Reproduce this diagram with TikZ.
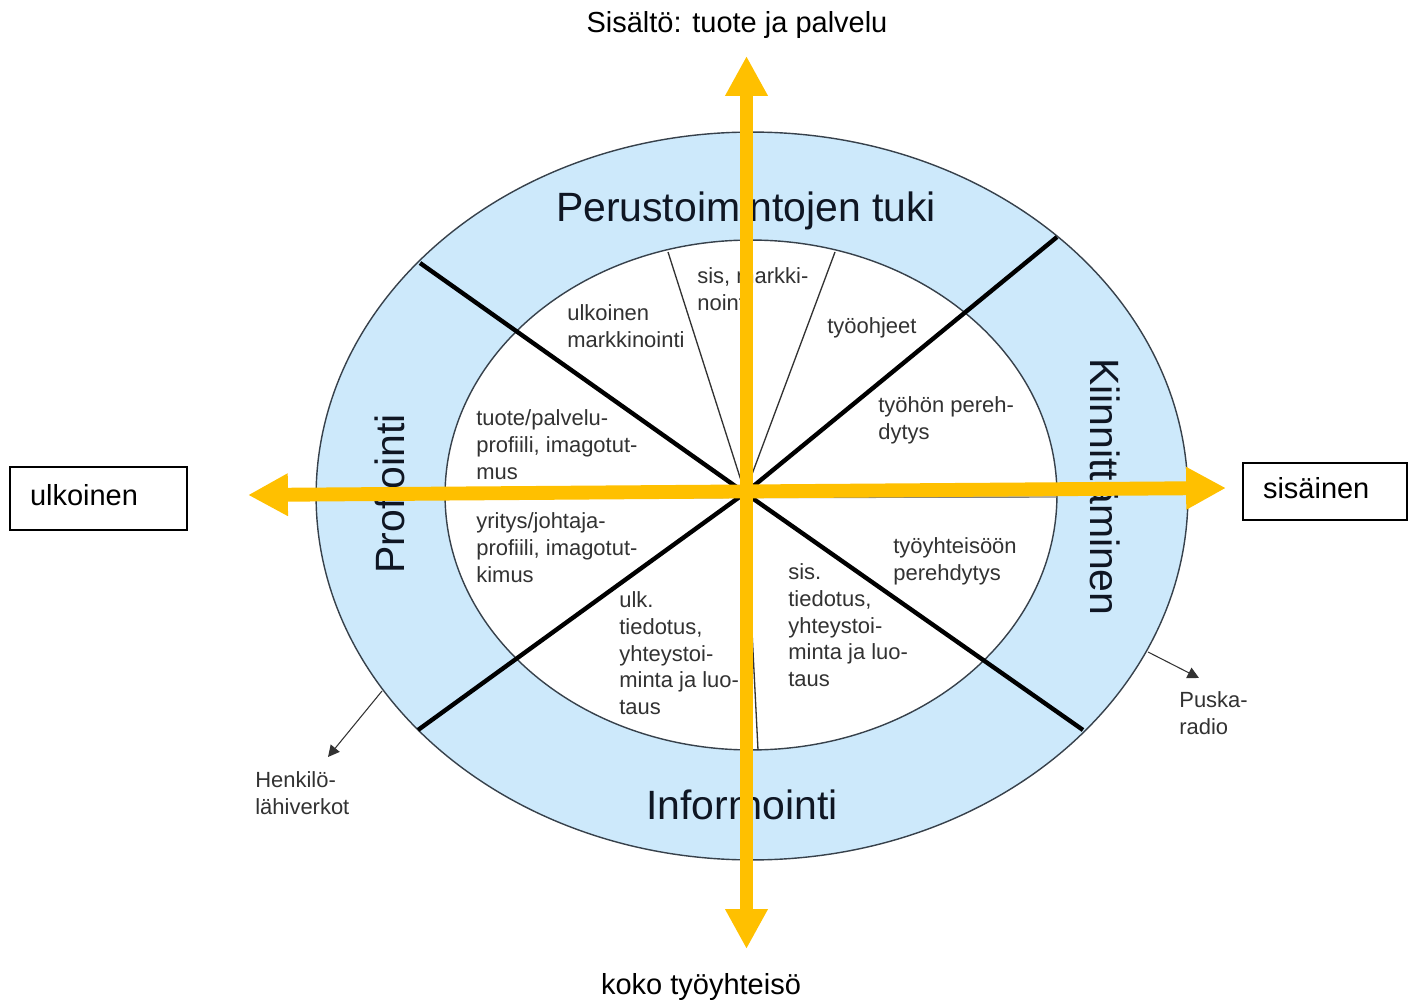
\documentclass[tikz,border=0pt]{standalone}
\usepackage{fontspec}
\setmainfont{Liberation Sans}
\usetikzlibrary{arrows.meta,shapes.geometric}
\definecolor{ringblue}{RGB}{205,233,251}
\definecolor{ringline}{RGB}{55,65,75}
\definecolor{axisyellow}{RGB}{255,192,0}
\definecolor{labgray}{RGB}{50,50,50}
\definecolor{ringtext}{RGB}{15,22,35}
\begin{document}
\begin{tikzpicture}[x=0.02cm,y=-0.02cm,
  ringshape/.style={ellipse, draw=ringline, line width=0.8pt, inner sep=0pt, outer sep=0pt},
  spoke/.style={line width=2.5pt, black},
  thinspoke/.style={line width=0.75pt, labgray},
  midline/.style={line width=0.8pt, gray},
  ringlab/.style={anchor=base, inner sep=0pt, text=ringtext, font=\fontsize{23.3}{28}\selectfont},
  lab/.style={anchor=north west, inner sep=0pt, align=left, text=labgray, font=\fontsize{12.5}{15.3}\selectfont},
  axis/.style={line width=7.9pt, axisyellow, {Triangle[length=22.7pt,width=22.7pt]}-{Triangle[length=22.7pt,width=22.7pt]}},
  small arrow/.style={line width=0.6pt, labgray, -{Triangle[length=6.5pt,width=6.5pt]}},
  sidebox/.style={draw=black, line width=0.8pt, align=left, inner ysep=0pt, font=\fontsize{16.5}{20}\selectfont, text height=12pt, text depth=3.5pt},
  axislab/.style={anchor=base, inner sep=0pt, font=\fontsize{16.5}{20}\selectfont}]
\useasboundingbox (0,0) rectangle (1416,1003);

% ring
\node[ringshape, fill=ringblue, minimum width=17.44cm, minimum height=14.56cm] (outer) at (752,496) {};
\node[ringshape, fill=white, minimum width=12.24cm, minimum height=10.2cm] (inner) at (751,495) {};

% spokes
\coordinate (c) at (745,493);
\coordinate (s1) at (420,263);
\coordinate (s2) at (1057,237);
\coordinate (s3) at (418,730);
\coordinate (s4) at (1083,730);
\coordinate (t1) at (668,252);
\coordinate (t2) at (835,252);
\coordinate (t3) at (758,750);
\coordinate (hl) at (445,498);
\coordinate (hr) at (1057,497);
\draw[midline] (hl) -- (hr);
\draw[thinspoke] (c) -- (t1);
\draw[thinspoke] (c) -- (t2);
\draw[thinspoke] (c) -- (t3);
\draw[spoke] (c) -- (s1);
\draw[spoke] (c) -- (s2);
\draw[spoke] (c) -- (s3);
\draw[spoke] (c) -- (s4);

% ring labels
\node[ringlab] (perus) at (746,222) {Perustoimintojen tuki};
\node[ringlab] (info) at (742,819) {Informointi};
\node[ringlab, rotate=90] (prof) at (404,494) {Profiointi};
\node[ringlab, rotate=-90] (kiin) at (1090,487) {Kiinnittäminen};

% inner labels
\node[lab] (ulkm) at (567,304) {ulkoinen\\markkinointi};
\node[lab] (sism) at (697,267) {sis, markki-\\nointi};
\node[lab] (tyoo) at (827,317) {työohjeet};
\node[lab] (tyoh) at (878,396) {työhön pereh-\\dytys};
\node[lab] (tuote) at (476,409) {tuote/palvelu-\\profiili, imagotut-\\mus};
\node[lab] (yritys) at (476,512) {yritys/johtaja-\\profiili, imagotut-\\kimus};
\node[lab] (ulkt) at (619,591) {ulk.\\tiedotus,\\yhteystoi-\\minta ja luo-\\taus};
\node[lab] (sist) at (788,563) {sis.\\tiedotus,\\yhteystoi-\\minta ja luo-\\taus};
\node[lab] (tyoy) at (893,537) {työyhteisöön\\perehdytys};

% outside labels and arrows
\node[lab] (henk) at (255,771) {Henkilö-\\lähiverkot};
\node[lab] (puska) at (1179,691) {Puska-\\radio};
\coordinate (ha) at (382,691);
\coordinate (hb) at (328,757);
\coordinate (pa) at (1148,652);
\coordinate (pb) at (1199,678);
\draw[small arrow] (ha) -- (hb);
\draw[small arrow] (pa) -- (pb);

% axes
\coordinate (atop) at (746.5,56);
\coordinate (abot) at (746.5,949);
\coordinate (aleft) at (248,495);
\coordinate (aright) at (1226,488);
\draw[axis] (abot) -- (atop);
\draw[axis] (aleft) -- (aright);

% axis labels
\node[axislab] (top) at (737,33) {Sisältö: tuote ja palvelu};
\node[axislab] (bottom) at (701,994) {koko työyhteisö};
\node[sidebox, minimum height=1.26cm, text width=2.74cm, inner xsep=0.4cm] (ulk) at (98.5,498.5) {ulkoinen};
\node[sidebox, minimum height=1.14cm, text width=2.48cm, inner xsep=0.4cm] (sis) at (1325,491.5) {sisäinen};
\end{tikzpicture}
\end{document}
